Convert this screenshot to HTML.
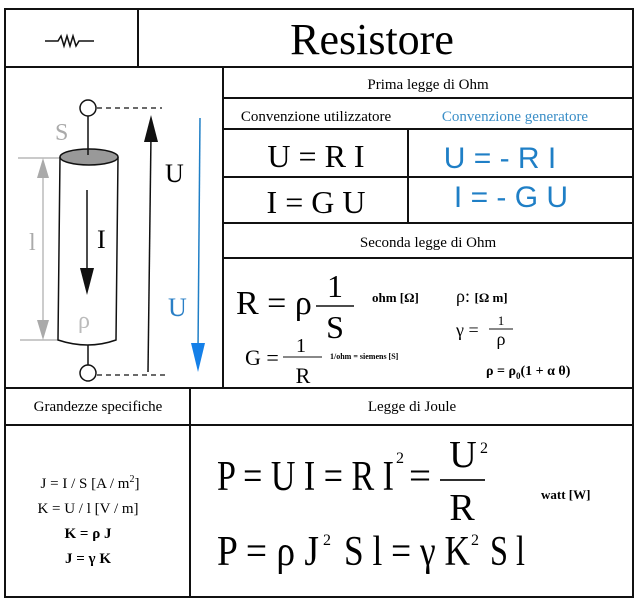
<!DOCTYPE html>
<html><head><meta charset="utf-8"><style>html,body{margin:0;padding:0;background:#fff}svg{display:block}</style></head><body>
<svg width="640" height="604" viewBox="0 0 640 604" xmlns="http://www.w3.org/2000/svg" font-family="Liberation Serif, serif">
<g stroke="#111" stroke-width="2" fill="none">
<rect x="5" y="9" width="628" height="588"/>
<line x1="138" y1="9" x2="138" y2="67"/>
<line x1="5" y1="67" x2="633" y2="67"/>
<line x1="223" y1="67" x2="223" y2="388"/>
<line x1="223" y1="98" x2="633" y2="98"/>
<line x1="223" y1="129" x2="633" y2="129"/>
<line x1="408" y1="129" x2="408" y2="222"/>
<line x1="223" y1="177" x2="633" y2="177"/>
<line x1="223" y1="223" x2="633" y2="223"/>
<line x1="223" y1="258" x2="633" y2="258"/>
<line x1="5" y1="388" x2="633" y2="388"/>
<line x1="190" y1="388" x2="190" y2="597"/>
<line x1="5" y1="425" x2="633" y2="425"/>
</g>
<polyline points="45,41 58,41 61,36 64,46 67,36 70,46 73,36 76,46 79,41 94,41" stroke="#111" stroke-width="1.5" fill="none"/>
<text x="372" y="54" font-size="44" text-anchor="middle">Resistore</text>
<text x="428" y="89" font-size="15" text-anchor="middle">Prima legge di Ohm</text>
<text x="316" y="121" font-size="15" text-anchor="middle">Convenzione utilizzatore</text>
<text x="515" y="121" font-size="15" text-anchor="middle" fill="#3a8ec7">Convenzione generatore</text>
<text x="316" y="167" font-size="32" text-anchor="middle">U = R I</text>
<text x="316" y="213" font-size="32" text-anchor="middle">I = G U</text>
<text x="500" y="168" font-size="30" text-anchor="middle" font-family="Liberation Sans, sans-serif" fill="#1f7fc6">U = - R I</text>
<text x="511" y="207" font-size="30" text-anchor="middle" font-family="Liberation Sans, sans-serif" fill="#1f7fc6">I = - G U</text>
<text x="428" y="247" font-size="15" text-anchor="middle">Seconda legge di Ohm</text>
<text x="236" y="314" font-size="34">R = ρ</text>
<line x1="316" y1="306" x2="354" y2="306" stroke="#111" stroke-width="1.5"/>
<text x="335" y="297" font-size="32" text-anchor="middle">1</text>
<text x="335" y="338" font-size="32" text-anchor="middle">S</text>
<text x="372" y="302" font-size="13" font-weight="bold">ohm [Ω]</text>
<text x="456" y="302" font-size="18">ρ: <tspan font-size="13" font-weight="bold">[Ω m]</tspan></text>
<text x="456" y="336" font-size="18">γ =</text>
<line x1="489" y1="329" x2="513" y2="329" stroke="#111" stroke-width="1"/>
<text x="501" y="325" font-size="13" text-anchor="middle">1</text>
<text x="501" y="345" font-size="18" text-anchor="middle">ρ</text>
<text x="245" y="365" font-size="22">G =</text>
<line x1="283" y1="357" x2="322" y2="357" stroke="#111" stroke-width="1"/>
<text x="301" y="352" font-size="20" text-anchor="middle">1</text>
<text x="303" y="383" font-size="22" text-anchor="middle">R</text>
<text x="330" y="359" font-size="8" font-weight="bold">1/ohm = siemens [S]</text>
<text x="486" y="375" font-size="14" font-weight="bold">ρ = ρ<tspan font-size="9" dy="4">0</tspan><tspan dy="-4">(1 + α θ)</tspan></text>
<line x1="18" y1="158" x2="60" y2="158" stroke="#aaa" stroke-width="1.2"/>
<line x1="20" y1="340" x2="60" y2="340" stroke="#aaa" stroke-width="1.2"/>
<line x1="43" y1="170" x2="43" y2="330" stroke="#aaa" stroke-width="1.2"/>
<polygon points="43,158 37,178 49,178" fill="#aaa"/>
<polygon points="43,340 37,320 49,320" fill="#aaa"/>
<text x="29" y="250" font-size="24" fill="#aaa">l</text>
<text x="55" y="140" font-size="24" fill="#aaa">S</text>
<path d="M60,157 L58,340 Q88,350 116,340 L118,157" fill="#fff" stroke="#111" stroke-width="1.5"/>
<ellipse cx="89" cy="157" rx="29" ry="8" fill="#999" stroke="#111" stroke-width="1.5"/>
<line x1="88" y1="116" x2="88" y2="155" stroke="#111" stroke-width="1.5"/>
<line x1="88" y1="345" x2="88" y2="365" stroke="#111" stroke-width="1.5"/>
<circle cx="88" cy="108" r="8" fill="#fff" stroke="#111" stroke-width="1.5"/>
<circle cx="88" cy="373" r="8" fill="#fff" stroke="#111" stroke-width="1.5"/>
<line x1="97" y1="108" x2="162" y2="108" stroke="#111" stroke-width="1.2" stroke-dasharray="5,4"/>
<line x1="97" y1="375" x2="166" y2="375" stroke="#111" stroke-width="1.2" stroke-dasharray="5,4"/>
<line x1="87" y1="190" x2="87" y2="275" stroke="#111" stroke-width="1.5"/>
<polygon points="87,295 80,268 94,268" fill="#111"/>
<text x="97" y="248" font-size="26">I</text>
<text x="78" y="328" font-size="24" fill="#bbb">ρ</text>
<line x1="148" y1="372" x2="151" y2="135" stroke="#111" stroke-width="1.5"/>
<polygon points="151,115 144,142 158,142" fill="#111"/>
<text x="165" y="182" font-size="26">U</text>
<line x1="200" y1="118" x2="198" y2="350" stroke="#1f7fc6" stroke-width="1.5"/>
<polygon points="198,372 191,343 205,343" fill="#1580e8"/>
<text x="168" y="316" font-size="26" fill="#2a7fc6">U</text>
<text x="98" y="411" font-size="15" text-anchor="middle">Grandezze specifiche</text>
<text x="412" y="411" font-size="15" text-anchor="middle">Legge di Joule</text>
<text x="90" y="488" font-size="15" text-anchor="middle">J = I / S  [A / m<tspan font-size="10" dy="-6">2</tspan><tspan dy="6">]</tspan></text>
<text x="88" y="513" font-size="15" text-anchor="middle">K = U / l  [V / m]</text>
<text x="88" y="538" font-size="15" font-weight="bold" text-anchor="middle">K = ρ J</text>
<text x="88" y="563" font-size="15" font-weight="bold" text-anchor="middle">J = γ K</text>
<text x="217" y="490" font-size="42" textLength="177" lengthAdjust="spacingAndGlyphs">P = U I = R I</text>
<text x="396" y="463" font-size="16">2</text>
<text x="409" y="489" font-size="40" textLength="22" lengthAdjust="spacingAndGlyphs">=</text>
<text x="463" y="467" font-size="38" text-anchor="middle">U</text>
<text x="480" y="453" font-size="16">2</text>
<line x1="440" y1="480" x2="485" y2="480" stroke="#111" stroke-width="1.8"/>
<text x="462" y="520" font-size="38" text-anchor="middle">R</text>
<text x="541" y="499" font-size="13" font-weight="bold">watt [W]</text>
<text x="217" y="565" font-size="42" textLength="102" lengthAdjust="spacingAndGlyphs">P =  ρ J</text>
<text x="323" y="545" font-size="16">2</text>
<text x="344" y="565" font-size="42" textLength="126" lengthAdjust="spacingAndGlyphs">S l = γ K</text>
<text x="471" y="545" font-size="16">2</text>
<text x="490" y="565" font-size="42" textLength="35" lengthAdjust="spacingAndGlyphs">S l</text>
</svg>
</body></html>
